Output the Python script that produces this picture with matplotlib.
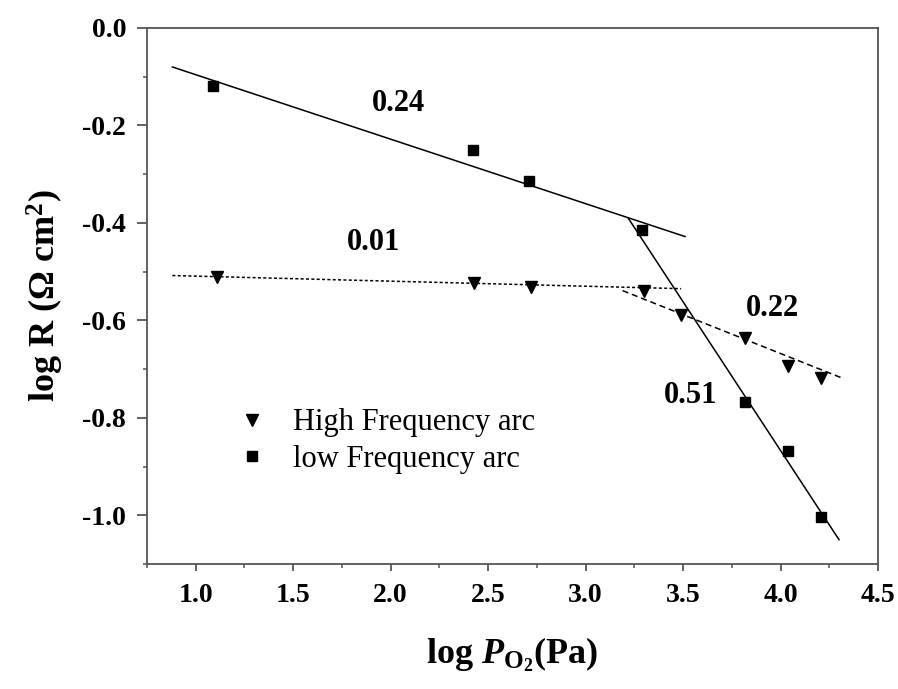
import matplotlib
matplotlib.use('Agg')
import matplotlib.pyplot as plt
from matplotlib.ticker import MultipleLocator

plt.rcParams['font.family'] = ['Liberation Serif', 'DejaVu Serif']
plt.rcParams['mathtext.fontset'] = 'custom'
plt.rcParams['mathtext.rm'] = 'Liberation Serif:bold'
plt.rcParams['mathtext.it'] = 'Liberation Serif:italic:bold'
plt.rcParams['mathtext.bf'] = 'Liberation Serif:bold'

# measured points
low_x = [1.09, 2.42, 2.71, 3.29, 3.82, 4.04, 4.21]
low_y = [-0.12, -0.25, -0.315, -0.415, -0.767, -0.869, -1.003]
high_x = [1.11, 2.43, 2.72, 3.30, 3.49, 3.82, 4.04, 4.21]
high_y = [-0.512, -0.524, -0.532, -0.539, -0.590, -0.637, -0.693, -0.719]

# fitted line end points
fit_low1_x = [0.88, 3.51]
fit_low1_y = [-0.080, -0.428]
fit_low2_x = [3.22, 4.30]
fit_low2_y = [-0.391, -1.050]
fit_high1_x = [0.88, 3.49]
fit_high1_y = [-0.508, -0.535]
fit_high2_x = [3.19, 4.32]
fit_high2_y = [-0.539, -0.719]

slope_labels = ['0.24', '0.01', '0.22', '0.51']
slope_x = [2.04, 1.91, 3.96, 3.54]
slope_y = [-0.154, -0.44, -0.576, -0.754]

fig = plt.figure(figsize=(8.98, 6.89), dpi=100)
ax = fig.add_axes([0.1637, 0.1814, 0.814, 0.778])

ax.plot(fit_low1_x, fit_low1_y, color='black', lw=1.1)
ax.plot(fit_low2_x, fit_low2_y, color='black', lw=1.1)
ax.plot(fit_high1_x, fit_high1_y, color='black', lw=1.1, linestyle=(0, (2, 1.5)))
ax.plot(fit_high2_x, fit_high2_y, color='black', lw=1.1, linestyle=(0, (4, 2.5)))

ax.plot(high_x, high_y, linestyle='none', marker='v', color='black', markersize=8.5,
        label='High Frequency arc')
ax.plot(low_x, low_y, linestyle='none', marker='s', color='black', markersize=6.5,
        label='low Frequency arc')

for lab, tx, ty in zip(slope_labels, slope_x, slope_y):
    ax.text(tx, ty, lab, fontsize=22, fontweight='bold', ha='center', va='center')

ax.set_xlim(0.75, 4.5)
ax.set_ylim(-1.1, 0.0)
ax.xaxis.set_major_locator(MultipleLocator(0.5))
ax.xaxis.set_minor_locator(MultipleLocator(0.25))
ax.yaxis.set_major_locator(MultipleLocator(0.2))
ax.yaxis.set_minor_locator(MultipleLocator(0.1))
ax.xaxis.set_major_formatter(plt.FormatStrFormatter('%.1f'))
ax.yaxis.set_major_formatter(plt.FormatStrFormatter('%.1f'))

for s in ax.spines.values():
    s.set_color('#555555')
    s.set_linewidth(1.3)
ax.tick_params(which='both', direction='out', color='#555555', labelsize=20,
               top=False, right=False)
ax.tick_params(axis='x', which='major', length=5, width=1.3, pad=9)
ax.tick_params(axis='y', which='major', length=7, width=1.3, pad=8)
ax.tick_params(which='minor', length=3, width=1.1)
for t in ax.get_xticklabels() + ax.get_yticklabels():
    t.set_fontweight('bold')

ax.set_xlabel(r'log $P_{\mathbf{O}_{\mathbf{2}}}$(Pa)', fontsize=26, fontweight='bold', labelpad=19)
ax.set_ylabel(r'log R (Ω cm$^{2}$)', fontsize=26, fontweight='bold', labelpad=12)

ax.legend(loc='center left', bbox_to_anchor=(0.074, 0.229), frameon=False, fontsize=22,
          handletextpad=0.6, labelspacing=0.25, handlelength=1.5, borderpad=0.4)

fig.savefig('out.png', dpi=100)
